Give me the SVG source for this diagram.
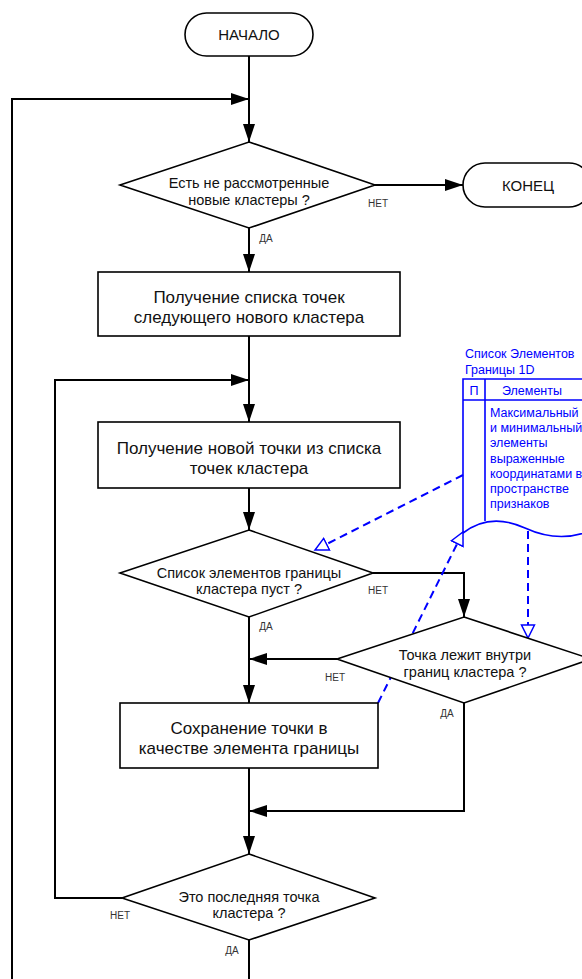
<svg xmlns="http://www.w3.org/2000/svg" width="582" height="979" viewBox="0 0 582 979">
  <style>
    .shape { fill: #fff; stroke: #000; stroke-width: 1.6; }
    .flow { fill: none; stroke: #000; stroke-width: 2; marker-end: url(#arr); }
    .plain { fill: none; stroke: #000; stroke-width: 2; }
    .t { font-family: "Liberation Sans", Arial, sans-serif; fill: #111; text-anchor: middle; }
    .term { font-size: 15px; }
    .box { font-size: 17px; }
    .dia { font-size: 14.5px; }
    .lbl { font-family: "Liberation Sans", Arial, sans-serif; font-size: 10px; fill: #333; text-anchor: middle; }
    .blue { fill: none; stroke: #0000ff; stroke-width: 1.6; }
    .bt { font-family: "Liberation Sans", Arial, sans-serif; font-size: 12.5px; fill: #0000ff; }
    .dash { fill: none; stroke: #0000ff; stroke-width: 2; stroke-dasharray: 8 5; marker-end: url(#open); }
  </style>
  <defs>
    <marker id="arr" markerUnits="userSpaceOnUse" markerWidth="18" markerHeight="12" refX="18" refY="6" orient="auto">
      <path d="M0,0 L18,6 L0,12 z" fill="#000"/>
    </marker>
    <marker id="open" markerUnits="userSpaceOnUse" markerWidth="16" markerHeight="16" refX="14" refY="7.5" orient="auto">
      <path d="M1,1 L14,7.5 L1,14 z" fill="#fff" stroke="#0000ff" stroke-width="1.5"/>
    </marker>
  </defs>

  <!-- connectors -->
  <g id="connectors">
    <path class="flow" d="M249,56 V142"/>
    <path class="flow" d="M12,979 V99 H249"/>
    <path class="flow" d="M375,185 H463"/>
    <path class="flow" d="M249,228 V272"/>
    <path class="flow" d="M249,336 V422"/>
    <path class="flow" d="M122,898 H55 V380 H249"/>
    <path class="flow" d="M249,488 V530"/>
    <path class="flow" d="M373,573 H464 V617"/>
    <path class="flow" d="M249,617 V703"/>
    <path class="flow" d="M337,659 H249"/>
    <path class="flow" d="M464,703 V811 H249"/>
    <path class="flow" d="M249,768 V854"/>
    <path class="plain" d="M249,940 V979"/>
  </g>

  <!-- data links (drawn beneath the shapes) -->
  <g id="data-links">
    <path class="dash" d="M463,475 L315,550"/>
    <path class="dash" d="M378,703 L463,532"/>
    <path class="dash" d="M528,531 V638"/>
  </g>

  <!-- terminators -->
  <g id="start">
    <rect class="shape" x="185" y="13" width="128" height="43" rx="21.5"/>
    <text class="t term" x="249" y="40">НАЧАЛО</text>
  </g>
  <g id="end">
    <rect class="shape" x="463" y="163" width="128" height="44" rx="22"/>
    <text class="t term" x="528" y="191">КОНЕЦ</text>
  </g>

  <!-- decision: any clusters left -->
  <g id="d-clusters">
    <polygon class="shape" points="249,142 375,185 249,228 120,185"/>
    <text class="t dia" x="249" y="188">Есть не рассмотренные</text>
    <text class="t dia" x="249" y="205">новые кластеры ?</text>
    <text class="lbl" x="378" y="207">НЕТ</text>
    <text class="lbl" x="266" y="242">ДА</text>
  </g>

  <!-- process: get list of points -->
  <g id="p-list">
    <rect class="shape" x="98" y="272" width="302" height="64"/>
    <text class="t box" x="249" y="303">Получение списка точек</text>
    <text class="t box" x="249" y="323">следующего нового кластера</text>
  </g>

  <!-- process: next point -->
  <g id="p-point">
    <rect class="shape" x="98" y="422" width="302" height="66"/>
    <text class="t box" x="249" y="454">Получение новой точки из списка</text>
    <text class="t box" x="249" y="474">точек кластера</text>
  </g>

  <!-- decision: boundary list empty -->
  <g id="d-empty">
    <polygon class="shape" points="249,530 373,573 249,617 120,573"/>
    <text class="t dia" x="249" y="578">Список элементов границы</text>
    <text class="t dia" x="249" y="594">кластера пуст ?</text>
    <text class="lbl" x="378" y="594">НЕТ</text>
    <text class="lbl" x="266" y="630">ДА</text>
  </g>

  <!-- decision: point inside bounds -->
  <g id="d-inside">
    <polygon class="shape" points="464,617 591,659 464,703 337,659"/>
    <text class="t dia" x="465" y="660">Точка лежит внутри</text>
    <text class="t dia" x="465" y="677">границ кластера ?</text>
    <text class="lbl" x="335" y="681">НЕТ</text>
    <text class="lbl" x="447" y="717">ДА</text>
  </g>

  <!-- process: save point -->
  <g id="p-save">
    <rect class="shape" x="120" y="703" width="258" height="65"/>
    <text class="t box" x="249" y="734">Сохранение точки в</text>
    <text class="t box" x="249" y="754">качестве элемента границы</text>
  </g>

  <!-- decision: last point -->
  <g id="d-last">
    <polygon class="shape" points="249,854 375,898 249,940 122,898"/>
    <text class="t dia" x="249" y="902">Это последняя точка</text>
    <text class="t dia" x="249" y="918">кластера ?</text>
    <text class="lbl" x="120" y="919">НЕТ</text>
    <text class="lbl" x="232" y="954">ДА</text>
  </g>

  <!-- data store: boundary element list -->
  <g id="store">
    <text class="bt" x="465" y="358">Список Элементов</text>
    <text class="bt" x="465" y="374">Границы 1D</text>
    <path class="blue" d="M463,533 V379 H592 M463,400 H592 M485,379 V521"/>
    <path class="blue" d="M463,533 Q490,512 525,528 T592,530"/>
    <text class="bt" x="474" y="395" text-anchor="middle">П</text>
    <text class="bt" x="532" y="395" text-anchor="middle">Элементы</text>
    <text class="bt" x="490" y="417">Максимальный</text>
    <text class="bt" x="490" y="432">и минимальный</text>
    <text class="bt" x="490" y="447">элементы</text>
    <text class="bt" x="490" y="463">выраженные</text>
    <text class="bt" x="490" y="478">координатами в</text>
    <text class="bt" x="490" y="493">пространстве</text>
    <text class="bt" x="490" y="508">признаков</text>
  </g>
</svg>
